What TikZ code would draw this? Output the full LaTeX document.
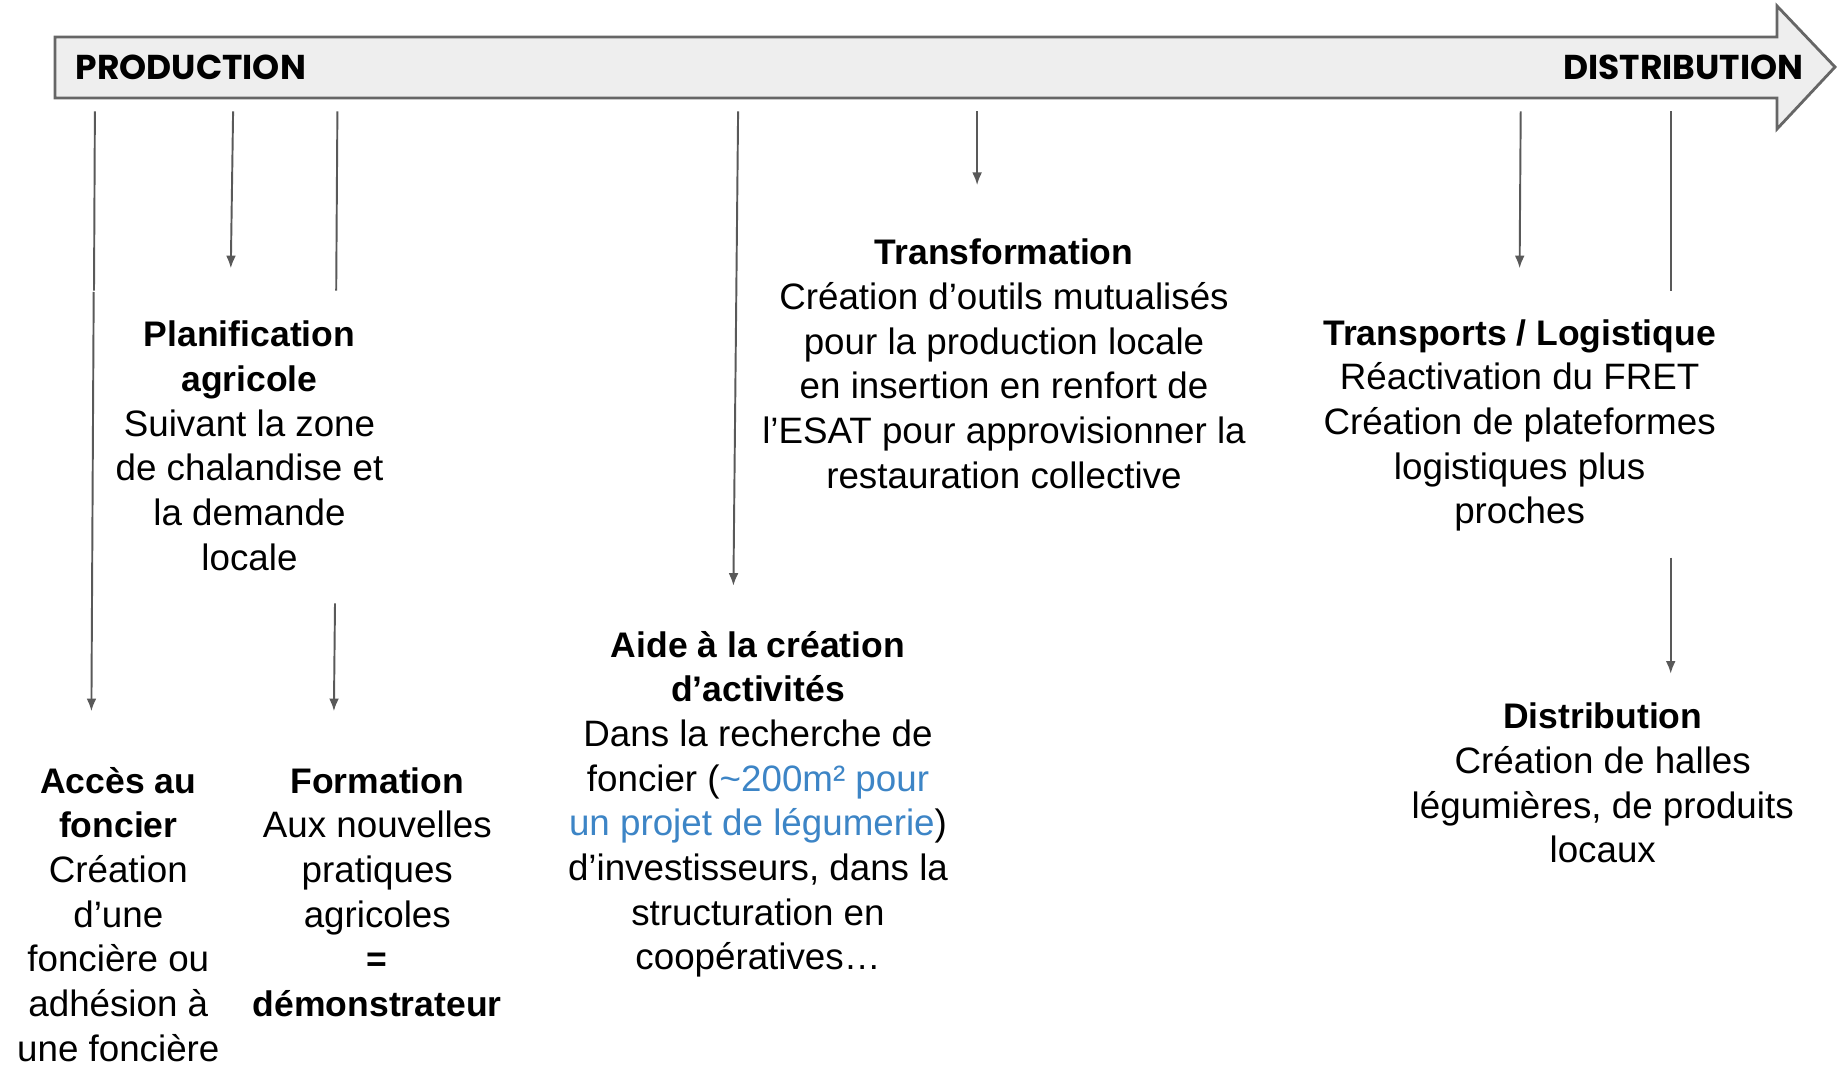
\documentclass[tikz,border=0pt]{standalone}
\usepackage{fontspec}
\setmainfont{Liberation Sans}
\newfontfamily\bannerfont{Poppins}
\usetikzlibrary{arrows.meta}
\definecolor{fleche}{HTML}{595959}
\definecolor{fond}{HTML}{EEEEEE}
\definecolor{bord}{HTML}{666666}
\definecolor{lien}{HTML}{3D85C6}
\newcommand{\titre}[1]{{\bfseries\fontsize{10.1}{12.7}\selectfont #1}}
\tikzset{
	bloc/.style={align=center, inner sep=0pt, font=\fontsize{10.45}{12.7}\selectfont},
	etape/.style={inner sep=0pt, font=\bannerfont\bfseries\fontsize{9.8}{12}\selectfont},
	trait/.style={draw=fleche, line width=0.55pt},
}
\begin{document}
\begin{tikzpicture}[x=0.01cm, y=-0.01cm, >={Latex[length=3.6pt,width=2.8pt]}]
		\useasboundingbox (0,0) rectangle (1837,1064);
		%Fleche
		\draw [fill=fond, draw=bord, line width=0.8pt] (55,37) -- (1777,37) -- (1777,6) -- (1835,67) -- (1777,129) -- (1777,98) -- (55,98) -- cycle;
		\node [etape, anchor=west] (prod) at (75,67) {PRODUCTION};
		\node [etape, anchor=east] (distr) at (1804,67) {DISTRIBUTION};
		%Blocs
		\node [bloc] (planif) at (249.5,445.8) {\titre{Planification}\\\titre{agricole}\\Suivant la zone\\de chalandise et\\la demande\\locale};
		\node [bloc] (transf) at (1004,363.8) {\titre{Transformation}\\Création d’outils mutualisés\\pour la production locale\\en insertion en renfort de\\l’ESAT pour approvisionner la\\restauration collective};
		\node [bloc] (transp) at (1519.6,425.3) {\titre{Transports / Logistique}\\Réactivation du FRET\\Création de plateformes\\logistiques plus\\proches};
		\node [bloc] (aide) at (758,804.3) {\titre{Aide à la création}\\\titre{d’activités}\\Dans la recherche de\\foncier (\textcolor{lien}{\textasciitilde200m² pour}\\\textcolor{lien}{un projet de légumerie})\\d’investisseurs, dans la\\structuration en\\coopératives…};
		\node [bloc] (acces) at (118.3,914.4) {\titre{Accès au}\\\titre{foncier}\\Création\\d’une\\foncière ou\\adhésion à\\une foncière};
		\node [bloc] (form) at (377.3,892.2) {\titre{Formation}\\Aux nouvelles\\pratiques\\agricoles\\\titre{=}\\\titre{démonstrateur}};
		\node [bloc] (distrib) at (1602.7,783.2) {\titre{Distribution}\\Création de halles\\légumières, de produits\\locaux};
		%Points
		\coordinate (a0) at (94.9,111.3);
		\coordinate (a1) at (94,290.6);
		\coordinate (a2) at (93.7,292);
		\coordinate (a3) at (91.4,711.2);
		\coordinate (p0) at (233.1,111.3);
		\coordinate (p1) at (230.8,268.3);
		\coordinate (f0) at (337.4,111.3);
		\coordinate (f1) at (336.2,290.6);
		\coordinate (f2) at (335,603.4);
		\coordinate (f3) at (333.9,711.2);
		\coordinate (c0) at (738.1,111.3);
		\coordinate (c1) at (733.4,585.8);
		\coordinate (t0) at (977.1,111.3);
		\coordinate (t1) at (977.1,185.1);
		\coordinate (l0) at (1520.7,111.3);
		\coordinate (l1) at (1519.6,268.3);
		\coordinate (d0) at (1670.7,111.3);
		\coordinate (d1) at (1670.7,290.6);
		\coordinate (d2) at (1670.7,557.7);
		\coordinate (d3) at (1670.7,673.7);
		%Liens
		\draw [trait] (a0) -- (a1);
		\draw [trait, ->] (a2) -- (a3);
		\draw [trait, ->] (p0) -- (p1);
		\draw [trait] (f0) -- (f1);
		\draw [trait, ->] (f2) -- (f3);
		\draw [trait, ->] (c0) -- (c1);
		\draw [trait, ->] (t0) -- (t1);
		\draw [trait, ->] (l0) -- (l1);
		\draw [trait] (d0) -- (d1);
		\draw [trait, ->] (d2) -- (d3);
	\end{tikzpicture}
\end{document}
